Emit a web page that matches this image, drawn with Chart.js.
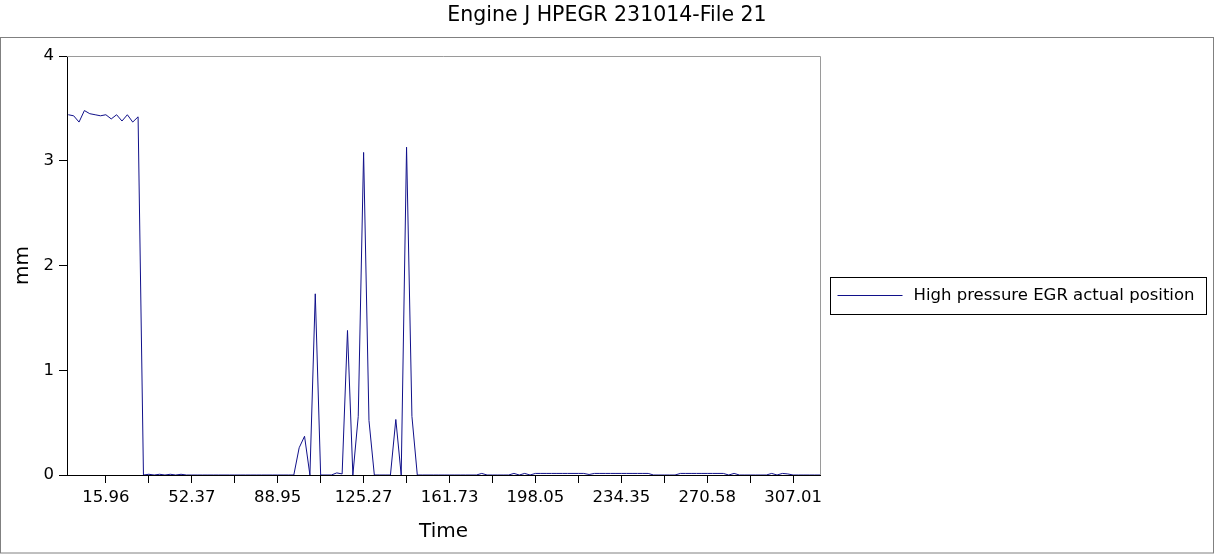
<!DOCTYPE html>
<html><head><meta charset="utf-8">
<script src="https://cdn.jsdelivr.net/npm/chart.js@4/dist/chart.umd.min.js"></script>
<style>html,body{margin:0;padding:0;background:#fff;overflow:hidden}#wrap{width:1214px;height:554px}</style>
</head><body><div id="wrap"><canvas id="c" width="1214" height="554"></canvas></div>
<script>
const chartTitle = 'Engine J HPEGR 231014-File 21';
const seriesLabel = 'High pressure EGR actual position';
const xTitle = 'Time';
const yTitle = 'mm';
// labels of every other x tick (time values)
const tickLabels = ['15.96','52.37','88.95','125.27','161.73','198.05','234.35','270.58','307.01'];
// sample numbers where x tick marks sit
const tickSamples = [7,15,23,31,39,47,55,63,71,79,87,95,103,111,119,127,135];
const yTicks = [0,1,2,3,4];
// EGR actual position (mm), one value per sample
const egrPosition = [
  3.44, 3.43, 3.37, 3.48, 3.45, 3.44, 3.43, 3.44, 3.40, 3.44,
  3.38, 3.44, 3.37, 3.42, 0, 0.007, 0, 0.007, 0, 0.007,
  0, 0.007, 0, 0, 0, 0, 0, 0, 0, 0,
  0, 0, 0, 0, 0, 0, 0, 0, 0, 0,
  0, 0, 0, 0.26, 0.37, 0, 1.73, 0, 0, 0,
  0.02, 0.01, 1.38, 0, 0.56, 3.08, 0.52, 0, 0, 0,
  0, 0.53, 0, 3.13, 0.56, 0, 0, 0, 0, 0,
  0, 0, 0, 0, 0, 0, 0, 0.015, 0, 0,
  0, 0, 0, 0.015, 0, 0.015, 0, 0.015, 0.015, 0.015,
  0.015, 0.015, 0.015, 0.015, 0.015, 0.015, 0.015, 0.005, 0.015, 0.015,
  0.015, 0.015, 0.015, 0.015, 0.015, 0.015, 0.015, 0.015, 0.015, 0,
  0, 0, 0, 0, 0.015, 0.015, 0.015, 0.015, 0.015, 0.015,
  0.015, 0.015, 0.015, 0, 0.015, 0, 0, 0, 0, 0,
  0, 0.015, 0, 0.015, 0.01, 0, 0, 0, 0, 0,
  0
];
const lineColor = '#10108a';

Chart.defaults.font.family = "'DejaVu Sans', sans-serif";
Chart.defaults.color = '#000';

const framePlugin = {
  id: 'frames',
  beforeDraw(chart) {
    const ctx = chart.ctx;
    ctx.save();
    ctx.fillStyle = '#fff';
    ctx.fillRect(0, 0, chart.width, chart.height);
    ctx.restore();
  },
  afterDraw(chart) {
    const {ctx, chartArea: a} = chart;
    ctx.save();
    ctx.lineWidth = 1;
    // plot box top/right
    ctx.strokeStyle = '#9a9a9a';
    ctx.beginPath();
    ctx.moveTo(a.left, Math.floor(a.top) + 0.5);
    ctx.lineTo(Math.floor(a.right) + 0.5, Math.floor(a.top) + 0.5);
    ctx.lineTo(Math.floor(a.right) + 0.5, a.bottom);
    ctx.stroke();
    // outer frame
    const frameTop = 37;
    ctx.strokeStyle = '#808080';
    ctx.strokeRect(0.5, frameTop + 0.5, chart.width - 1, chart.height - frameTop - 1.5);
    // legend
    const ds = chart.data.datasets[0];
    const cy = Math.round((frameTop + chart.height) / 2);
    const lx = Math.floor(a.right) + 10.5;
    const lw = 376, lh = 37;
    ctx.strokeStyle = '#000';
    ctx.strokeRect(lx, cy - 18.5, lw, lh);
    ctx.strokeStyle = ds.borderColor;
    ctx.beginPath();
    ctx.moveTo(lx + 7, cy - 0.5);
    ctx.lineTo(lx + 72, cy - 0.5);
    ctx.stroke();
    ctx.fillStyle = '#000';
    ctx.font = "16.5px 'DejaVu Sans'";
    ctx.textBaseline = 'middle';
    ctx.textAlign = 'left';
    ctx.fillText(ds.label, lx + 83, cy);
    ctx.restore();
  }
};

new Chart(document.getElementById('c'), {
  type: 'line',
  data: {
    datasets: [{
      label: seriesLabel,
      data: egrPosition.map((v, i) => ({x: i, y: v})),
      borderColor: lineColor,
      backgroundColor: lineColor,
      borderWidth: 1,
      pointRadius: 0,
      tension: 0,
      fill: false,
      yAxisID: 'y'
    }]
  },
  options: {
    responsive: false,
    animation: false,
    devicePixelRatio: 1,
    layout: {padding: 0},
    plugins: {
      legend: {display: false},
      tooltip: {enabled: false},
      title: {
        display: true,
        text: chartTitle,
        font: {size: 20.5, weight: 'normal'},
        color: '#000',
        padding: {top: 3.5, bottom: 28}
      }
    },
    scales: {
      x: {
        type: 'linear',
        min: -0.24,
        max: egrPosition.length - 1,
        afterBuildTicks: s => { s.ticks = tickSamples.map(v => ({value: v})); },
        afterFit: s => { s.height = 79; },
        ticks: {
          autoSkip: false,
          maxRotation: 0,
          padding: 5,
          font: {size: 16.5},
          color: '#000',
          callback: (v, idx) => idx % 2 === 0 ? tickLabels[idx / 2] : ''
        },
        grid: {drawOnChartArea: false, drawTicks: true, tickLength: 8, tickColor: '#000'},
        border: {color: '#000', width: 1},
        title: {display: true, text: xTitle, font: {size: 20}, color: '#000', padding: {top: 0, bottom: 10}}
      },
      y: {
        min: 0,
        max: 4,
        afterBuildTicks: s => { s.ticks = yTicks.map(v => ({value: v})); },
        afterFit: s => { s.width = 67; },
        ticks: {padding: 5, font: {size: 16.5}, color: '#000'},
        grid: {drawOnChartArea: false, drawTicks: true, tickLength: 8, tickColor: '#000'},
        border: {color: '#000', width: 1},
        title: {display: true, text: yTitle, font: {size: 20}, color: '#000', padding: {top: 11, bottom: 0}}
      },
      legendSpace: {
        position: 'right',
        min: 0,
        max: 4,
        afterFit: s => { s.width = 394; },
        ticks: {display: false},
        grid: {display: false},
        border: {display: false},
        title: {display: false}
      }
    }
  },
  plugins: [framePlugin]
});
</script>
</body></html>
